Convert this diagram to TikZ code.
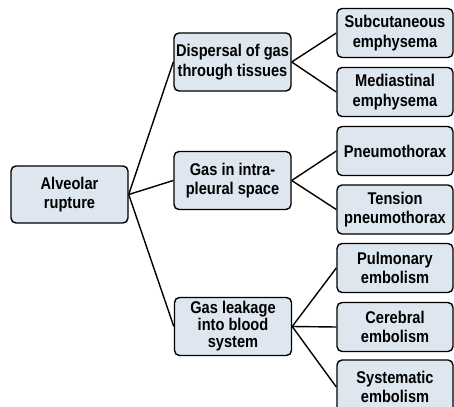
\documentclass[tikz,border=0pt]{standalone}
\usepackage{fontspec}
\setmainfont{Liberation Sans}[FakeStretch=0.86]
\usepackage{tikz}
\usetikzlibrary{positioning}
\definecolor{boxfill}{HTML}{DEE7F0}

\begin{document}
\begin{tikzpicture}[x=1pt,y=-1pt]
\tikzstyle{every path}=[line width=1.4pt]
\tikzstyle{cause}=[draw,fill=boxfill,rounded corners=5pt,align=center,
 font=\bfseries\fontsize{17}{19.5}\selectfont,inner sep=0pt]
\tikzstyle{route}=[cause,minimum width=117pt,minimum height=58pt]
\tikzstyle{result}=[cause,minimum width=116pt,minimum height=49pt]
\useasboundingbox (0,0) rectangle (454,406);
% root
\node [route,minimum height=57pt] (rupture) at (69.5,194.5) {Alveolar\\rupture};
% pathways
\node [route] (dispersal) at (232.5,62) {Dispersal of gas\\through tissues};
\node [route] (pleural) at (232.5,180.5) {Gas in intra-\\pleural space};
\node [route,font=\bfseries\fontsize{17}{17}\selectfont] (leakage) at (233,326.5) {Gas leakage\\into blood\\system};
% outcomes
\node [result] (subcut) at (395,33) {Subcutaneous\\emphysema};
\node [result] (mediast) at (395,92) {Mediastinal\\emphysema};
\node [result] (pneumo) at (395,151) {Pneumothorax};
\node [result] (tension) at (395,209.5) {Tension\\pneumothorax};
\node [result] (pulmon) at (395,268) {Pulmonary\\embolism};
\node [result] (cereb) at (395,327) {Cerebral\\embolism};
\node [result,minimum height=54pt] (system) at (395,387) {Systematic\\embolism};
% connectors
\draw (rupture.east) -- (dispersal.west);
\draw (rupture.east) -- (pleural.west);
\draw (rupture.east) -- (leakage.west);
\draw (dispersal.east) -- (subcut.west);
\draw (dispersal.east) -- (mediast.west);
\draw (pleural.east) -- (pneumo.west);
\draw (pleural.east) -- (tension.west);
\draw (leakage.east) -- (pulmon.west);
\draw (leakage.east) -- (cereb.west);
\draw (leakage.east) -- (system.west);
\end{tikzpicture}
\end{document}
